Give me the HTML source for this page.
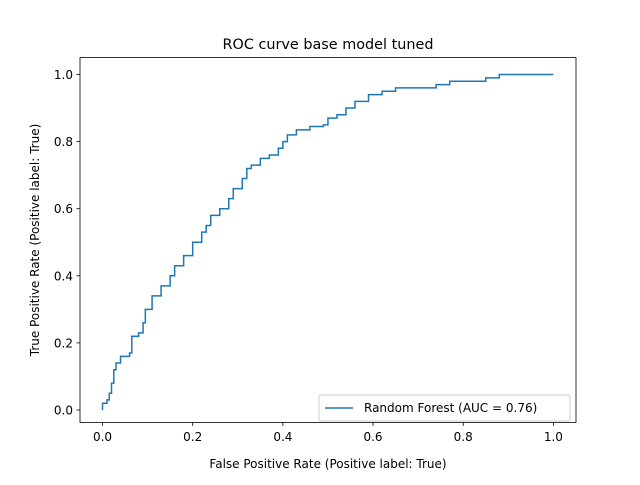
<!DOCTYPE html>
<html><head><meta charset="utf-8"><style>
body{margin:0;background:#fff}
svg text{font-family:"DejaVu Sans","Liberation Sans",sans-serif;fill:#000}
</style></head><body>
<svg id="chart" width="640" height="480" xmlns="http://www.w3.org/2000/svg">
<rect width="640" height="480" fill="#fff"/>
<text x="328" y="49" font-size="14.4" text-anchor="middle">ROC curve base model tuned</text>
<g id="axes"></g>
<path id="curve" fill="none" stroke="#1f77b4" stroke-width="1.5"/>
<rect x="80" y="57.6" width="496" height="364.8" fill="none" stroke="#000" stroke-width="0.8"/>
<text x="328" y="468" font-size="12" text-anchor="middle">False Positive Rate (Positive label: True)</text>
<text transform="translate(39,240) rotate(-90)" font-size="12" text-anchor="middle">True Positive Rate (Positive label: True)</text>
<g>
<rect x="319" y="395" width="251" height="26" rx="2" fill="#fff" stroke="#ccc" stroke-width="1"/>
<line x1="325" y1="408" x2="353" y2="408" stroke="#1f77b4" stroke-width="1.5"/>
<text x="364" y="412" font-size="12">Random Forest (AUC = 0.76)</text>
</g>
</svg>
<script>
const fpr=[0,0,0.01,0.015,0.02,0.025,0.03,0.04,0.06,0.065,0.065,0.08,0.09,0.095,0.11,0.13,0.15,0.16,0.18,0.2,0.22,0.23,0.24,0.26,0.28,0.29,0.31,0.32,0.33,0.35,0.37,0.39,0.4,0.41,0.43,0.46,0.49,0.5,0.52,0.54,0.56,0.59,0.62,0.65,0.72,0.74,0.77,0.85,0.88,1];
const tpr=[0,0.02,0.03,0.05,0.08,0.12,0.14,0.16,0.17,0.19,0.22,0.23,0.26,0.3,0.34,0.37,0.4,0.43,0.46,0.5,0.53,0.55,0.58,0.6,0.63,0.66,0.69,0.72,0.73,0.75,0.76,0.78,0.8,0.82,0.835,0.845,0.85,0.87,0.88,0.9,0.92,0.94,0.95,0.96,0.96,0.97,0.98,0.99,1,1];
const ticks=[0,0.2,0.4,0.6,0.8,1.0];
const tickLabels=["0.0","0.2","0.4","0.6","0.8","1.0"];
const xs=v=>102.5+v*450.9;
const ys=v=>410-v*335.5;
const NS="http://www.w3.org/2000/svg";
const g=document.getElementById('axes');
ticks.forEach((t,i)=>{
 const lx=document.createElementNS(NS,'line');
 lx.setAttribute('x1',xs(t));lx.setAttribute('x2',xs(t));lx.setAttribute('y1',422.4);lx.setAttribute('y2',425.9);lx.setAttribute('stroke','#000');lx.setAttribute('stroke-width','0.8');
 
 
 g.appendChild(lx);
 const tx=document.createElementNS(NS,'text');
 tx.setAttribute('x',xs(t));tx.setAttribute('y',441);tx.setAttribute('font-size','12');tx.setAttribute('text-anchor','middle');tx.textContent=tickLabels[i];
 
 
 g.appendChild(tx);
 const ly=document.createElementNS(NS,'line');
 ly.setAttribute('x1',76.5);ly.setAttribute('x2',80);ly.setAttribute('y1',ys(t));ly.setAttribute('y2',ys(t));ly.setAttribute('stroke','#000');ly.setAttribute('stroke-width','0.8');
 
 
 g.appendChild(ly);
 const ty=document.createElementNS(NS,'text');
 ty.setAttribute('x',73);ty.setAttribute('y',ys(t)+4.5);ty.setAttribute('font-size','12');ty.setAttribute('text-anchor','end');ty.textContent=tickLabels[i];
 
 
 g.appendChild(ty);
});
let d='M'+xs(fpr[0])+','+ys(tpr[0]);
for(let i=1;i<fpr.length;i++){d+=' L'+xs(fpr[i])+','+ys(tpr[i-1])+' L'+xs(fpr[i])+','+ys(tpr[i]);}
document.getElementById('curve').setAttribute('d',d);
</script>
</body></html>
